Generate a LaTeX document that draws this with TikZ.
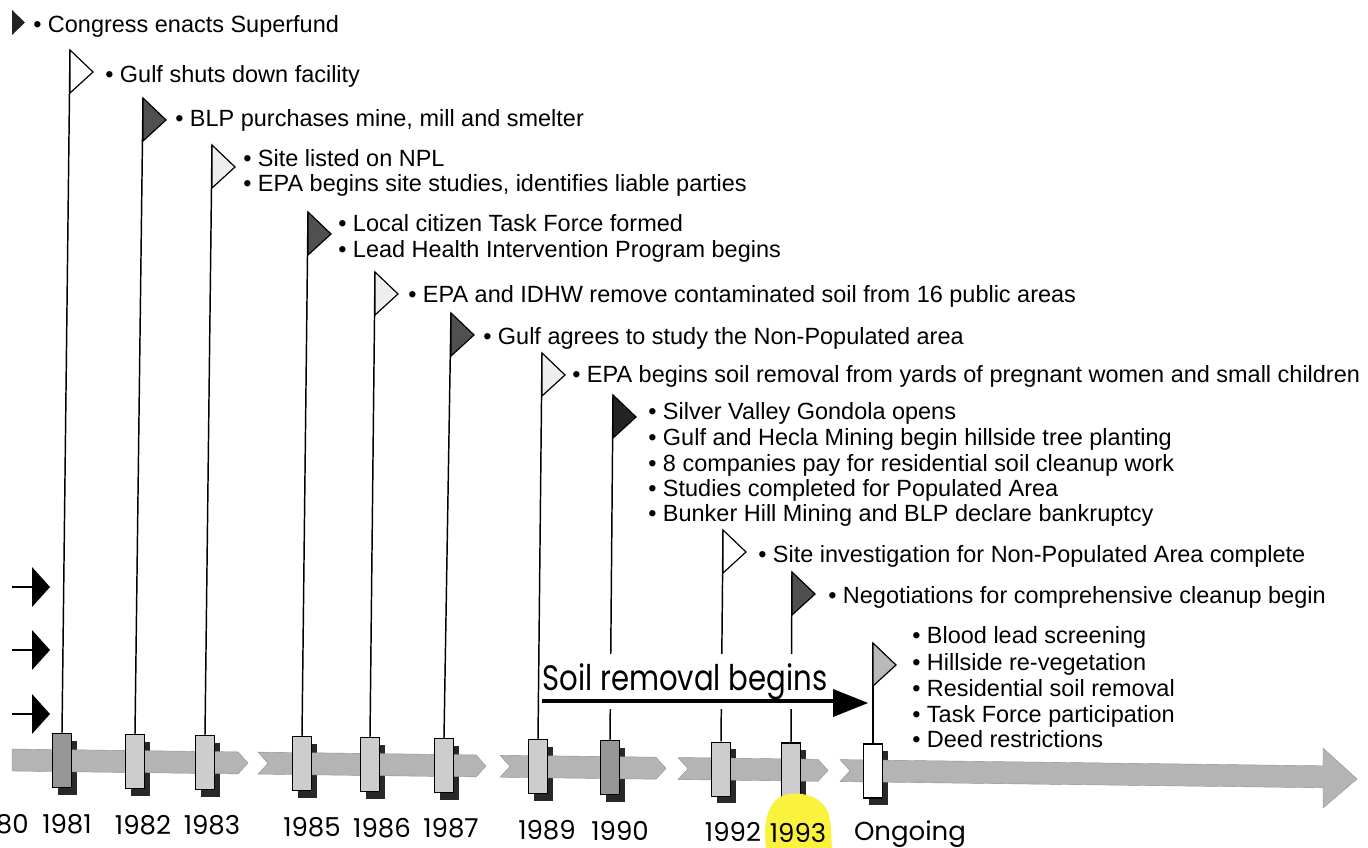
\documentclass[tikz,border=0pt]{standalone}
\usepackage{fontspec}
\setmainfont{Liberation Sans}
\newfontfamily\yearfont{Poppins}
\definecolor{bandgray}{RGB}{180,180,180}
\definecolor{mlight}{RGB}{205,205,205}
\definecolor{mdark}{RGB}{150,150,150}
\definecolor{shadowc}{RGB}{40,40,40}
\definecolor{flight}{RGB}{238,238,238}
\definecolor{fdark}{RGB}{80,80,80}
\definecolor{fblack}{RGB}{35,35,35}
\definecolor{fmid}{RGB}{185,185,185}
\definecolor{hilite}{RGB}{250,242,60}
\begin{document}
\begin{tikzpicture}[x=0.75pt,y=-0.75pt,
  evt/.style={anchor=base west, inner sep=0pt, font=\fontsize{17.6}{19}\selectfont},
  yr/.style={anchor=base, inner sep=0pt, font=\yearfont\fontsize{19.5}{21}\selectfont},
  marker/.style={draw=black, line width=0.9pt, minimum width=14.25pt, minimum height=40.5pt, inner sep=0pt},
  pole/.style={draw=black, line width=1.1pt},
  flagshape/.style={draw=black, line width=0.9pt, line join=miter},
  bandseg/.style={fill=bandgray, draw=bandgray!80!black, line width=0.3pt},
  lefttri/.style={fill=black}]
\clip (0,0) rectangle (1368,848);
\fill[white] (0,0) rectangle (1368,848);

% marker centres
\foreach \n/\x/\y in {81/62/760.6,82/135/761.6,83/205/762.5,85/302/763.7,86/370/764.6,87/444/765.5,89/538/766.7,90/610/767.7,92/721/769.1,93/791/770.0,On/873/771.0}
  \coordinate (c\n) at (\x,\y);

% shadows
\foreach \n in {81,82,83,85,86,87,89,90,92,93,On}
  \fill[shadowc, shift={(c\n)}] (-4.5,-20) rectangle (14.5,34);

% band segments
\path[bandseg] (12,749) -- (238,751.9) -- (248,763) -- (238,773.9) -- (12,771) -- cycle;
\path[bandseg] (258,752.1) -- (476,754.9) -- (486,766.1) -- (476,776.9) -- (258,774.1) -- (268,763.3) -- cycle;
\path[bandseg] (500,755.2) -- (656,757.2) -- (666,768.4) -- (656,779.2) -- (500,777.2) -- (510,766.4) -- cycle;
\path[bandseg] (678,757.5) -- (818,759.3) -- (828,770.4) -- (818,781.3) -- (678,779.5) -- (688,768.7) -- cycle;
\path[bandseg] (840,759.6) -- (1323,765.8) -- (1323,748) -- (1357,779) -- (1323,808) -- (1323,787.8) -- (840,781.6) -- (850,770.7) -- cycle;

% markers
\foreach \n/\c in {81/mdark,82/mlight,83/mlight,85/mlight,86/mlight,87/mlight,89/mlight,90/mdark,92/mlight,93/mlight,On/white}
  \node[marker, fill=\c] (m\n) at (c\n) {};

% flag tops
\foreach \n/\x/\y in {81/70/50,82/143/98,83/212/145,85/308/212,86/375/272,87/451/313,89/542/353,90/613/395,92/723/530,93/792/572,On/873/643}
  \coordinate (f\n) at (\x,\y);

% poles
\foreach \n in {81,82,83,85,86,87,89,90,92,93,On}
  \draw[pole] (m\n.north) -- (f\n);

% flags
\foreach \n/\c in {81/white,82/fdark,83/flight,85/fdark,86/flight,87/fdark,89/flight,90/fblack,92/white,93/fdark,On/fmid}
  \draw[flagshape, fill=\c] (f\n) -- ++(23,22) -- ++(-23,21) -- cycle;

% top-left flag (1980)
\coordinate (f80) at (12,10);
\fill[fblack] (f80) -- ++(13,12.5) -- ++(-13,12.5) -- cycle;

% left arrows
\foreach \i/\y in {1/587,2/650,3/714}{
  \coordinate (la\i) at (12,\y);
  \coordinate (lb\i) at (32,\y);
  \draw[line width=1.4pt] (la\i) -- (lb\i);
  \fill[lefttri] (lb\i) -- ++(0,-20) -- ++(18,20) -- ++(-18,20) -- cycle;
}

% soil removal label and arrow
\fill[white] (545,654) rectangle (866,709);
\node[anchor=base west, inner sep=0pt, font=\yearfont\fontsize{26.5}{28}\selectfont] (soil) at (542,690) {\scalebox{0.825}[1]{Soil removal begins}};
\coordinate (sa) at (542,701);
\coordinate (sb) at (834,701);
\draw[line width=2.3pt] (sa) -- (sb);
\fill[black] (833,689) -- (868,703) -- (833,717) -- cycle;

% event texts
\node[evt] (t80) at (33,33) {• Congress enacts Superfund};
\node[evt] (t81) at (105,83) {• Gulf shuts down facility};
\node[evt] (t82) at (175,127) {• BLP purchases mine, mill and smelter};
\node[evt] (t83a) at (243,167) {• Site listed on NPL};
\node[evt] (t83b) at (243,192) {• EPA begins site studies, identifies liable parties};
\node[evt] (t85a) at (338,232) {• Local citizen Task Force formed};
\node[evt] (t85b) at (338,258) {• Lead Health Intervention Program begins};
\node[evt] (t86) at (408,303) {• EPA and IDHW remove contaminated soil from 16 public areas};
\node[evt] (t87) at (483,345) {• Gulf agrees to study the Non-Populated area};
\node[evt] (t89) at (572,383) {• EPA begins soil removal from yards of pregnant women and small children};
\node[evt] (t90a) at (648,420) {• Silver Valley Gondola opens};
\node[evt] (t90b) at (648,446) {• Gulf and Hecla Mining begin hillside tree planting};
\node[evt] (t90c) at (648,472) {• 8 companies pay for residential soil cleanup work};
\node[evt] (t90d) at (648,497) {• Studies completed for Populated Area};
\node[evt] (t90e) at (648,522) {• Bunker Hill Mining and BLP declare bankruptcy};
\node[evt] (t92) at (758,562) {• Site investigation for Non-Populated Area complete};
\node[evt] (t93) at (828,603) {• Negotiations for comprehensive cleanup begin};
\node[evt] (tOa) at (912,643) {• Blood lead screening};
\node[evt] (tOb) at (912,670) {• Hillside re-vegetation};
\node[evt] (tOc) at (912,696) {• Residential soil removal};
\node[evt] (tOd) at (912,722) {• Task Force participation};
\node[evt] (tOe) at (912,747) {• Deed restrictions};

% highlight behind 1993
\fill[hilite] (766,848) .. controls (762,818) and (770,796) .. (790,794) .. controls (806,792) and (822,798) .. (828,812) .. controls (832,825) and (831,840) .. (832,848) -- cycle;

% year labels
\node[yr, anchor=base east] (y80) at (29,833) {1980};
\node[yr] (y81) at (67,833) {1981};
\node[yr] (y82) at (143,834) {1982};
\node[yr] (y83) at (212,834.9) {1983};
\node[yr] (y85) at (312,836.1) {1985};
\node[yr] (y86) at (382,837) {1986};
\node[yr] (y87) at (451,837.9) {1987};
\node[yr] (y89) at (547,839.2) {1989};
\node[yr] (y90) at (620,840.1) {1990};
\node[yr] (y92) at (733,841.5) {1992};
\node[yr] (y93) at (798,842.3) {1993};
\node[yr] (yOn) at (910,840.5) {Ongoing};
\end{tikzpicture}
\end{document}
